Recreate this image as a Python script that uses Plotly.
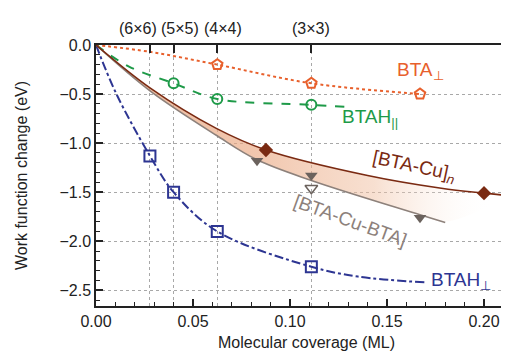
import plotly.graph_objects as go

# ---------------- data ----------------
# BTA perpendicular (orange pentagons)
bta_perp_x = [0.0625, 0.111, 0.167]
bta_perp_y = [-0.20, -0.39, -0.50]
bta_perp_curve_x = [0.0, 0.028, 0.0625, 0.111, 0.167]
bta_perp_curve_y = [0.0, -0.07, -0.20, -0.39, -0.50]

# BTAH parallel (green circles)
btah_par_x = [0.04, 0.0625, 0.111]
btah_par_y = [-0.39, -0.55, -0.61]
btah_par_curve_x = [0.0, 0.017, 0.04, 0.0625, 0.111, 0.128]
btah_par_curve_y = [0.0, -0.22, -0.39, -0.55, -0.61, -0.63]

# BTAH perpendicular (blue squares)
btah_perp_x = [0.0278, 0.04, 0.0625, 0.111]
btah_perp_y = [-1.13, -1.50, -1.90, -2.26]
btah_perp_curve_x = [0.0, 0.0103, 0.0278, 0.04, 0.0625, 0.111, 0.135, 0.170]
btah_perp_curve_y = [0.0, -0.49, -1.13, -1.50, -1.90, -2.26, -2.36, -2.42]

# [BTA-Cu]n (brown diamonds)
btacu_x = [0.0876, 0.200]
btacu_y = [-1.07, -1.51]
btacu_curve_x = [0.0, 0.028, 0.062, 0.0876, 0.14, 0.178, 0.200, 0.210]
btacu_curve_y = [0.0, -0.44, -0.85, -1.07, -1.33, -1.46, -1.51, -1.53]

# [BTA-Cu-BTA] (gray triangles)
btacubta_x = [0.083, 0.111, 0.167]
btacubta_y = [-1.18, -1.33, -1.76]
btacubta_open_x = [0.111]
btacubta_open_y = [-1.46]
btacubta_curve_x = [0.0, 0.028, 0.062, 0.083, 0.111, 0.167, 0.180]
btacubta_curve_y = [0.0, -0.47, -0.92, -1.17, -1.38, -1.73, -1.81]

# shaded band edges (lower edge runs past the gray line and fades out)
band_low_x = [0.0, 0.028, 0.062, 0.083, 0.111, 0.167, 0.180, 0.205]
band_low_y = [0.0, -0.47, -0.92, -1.17, -1.38, -1.73, -1.80, -1.62]
band_up_x = [0.0, 0.028, 0.062, 0.0876, 0.14, 0.178, 0.200, 0.205]
band_up_y = [0.0, -0.44, -0.85, -1.07, -1.33, -1.46, -1.51, -1.52]

# top axis: supercell sizes
top_tick_vals = [0.0278, 0.04, 0.0625, 0.111]
top_label_x = [0.0216, 0.0433, 0.0655, 0.111]
top_tick_text = ["(6×6)", "(5×5)", "(4×4)", "(3×3)"]

# ---------------- colours ----------------
ORANGE = "#e8602c"
GREEN = "#1e9a48"
BLUE = "#2d3592"
BROWN = "#7a2a12"
GRAY = "#6b625d"
GRAYLINE = "#8d817b"

FONT = "Liberation Sans, Arial, Helvetica, sans-serif"
FS = 16

fig = go.Figure()

# shaded band
fig.add_trace(go.Scatter(x=band_low_x, y=band_low_y, mode="lines",
                         line=dict(width=0, shape="spline"), hoverinfo="skip",
                         showlegend=False))
fig.add_trace(go.Scatter(x=band_up_x, y=band_up_y, mode="lines",
                         line=dict(width=0, shape="spline"), fill="tonexty",
                         fillgradient=dict(type="horizontal",
                                           colorscale=[[0, "rgba(230,160,120,0.7)"],
                                                       [0.4, "rgba(234,168,130,0.65)"],
                                                       [0.7, "rgba(240,192,162,0.5)"],
                                                       [1, "rgba(255,255,255,0)"]]),
                         hoverinfo="skip", showlegend=False))

# curves
fig.add_trace(go.Scatter(x=bta_perp_curve_x, y=bta_perp_curve_y, mode="lines",
                         line=dict(color=ORANGE, width=2, dash="dot", shape="spline"),
                         showlegend=False))
fig.add_trace(go.Scatter(x=btah_par_curve_x, y=btah_par_curve_y, mode="lines",
                         line=dict(color=GREEN, width=2, dash="dash", shape="spline"),
                         showlegend=False))
fig.add_trace(go.Scatter(x=btah_perp_curve_x, y=btah_perp_curve_y, mode="lines",
                         line=dict(color=BLUE, width=2, dash="dashdot", shape="spline"),
                         showlegend=False))
fig.add_trace(go.Scatter(x=btacubta_curve_x, y=btacubta_curve_y, mode="lines",
                         line=dict(color=GRAYLINE, width=1.6, shape="spline"),
                         showlegend=False))
fig.add_trace(go.Scatter(x=btacu_curve_x, y=btacu_curve_y, mode="lines",
                         line=dict(color=BROWN, width=1.6, shape="spline"),
                         showlegend=False))

# markers
fig.add_trace(go.Scatter(x=bta_perp_x, y=bta_perp_y, mode="markers",
                         marker=dict(symbol="pentagon-open", size=11, color=ORANGE,
                                     line=dict(width=2, color=ORANGE)),
                         showlegend=False))
fig.add_trace(go.Scatter(x=btah_par_x, y=btah_par_y, mode="markers",
                         marker=dict(symbol="circle-open", size=10, color=GREEN,
                                     line=dict(width=2, color=GREEN)),
                         showlegend=False))
fig.add_trace(go.Scatter(x=btah_perp_x, y=btah_perp_y, mode="markers",
                         marker=dict(symbol="square-open", size=11, color=BLUE,
                                     line=dict(width=2, color=BLUE)),
                         showlegend=False))
fig.add_trace(go.Scatter(x=btacubta_x, y=btacubta_y, mode="markers",
                         marker=dict(symbol="triangle-down", size=11, color=GRAY),
                         showlegend=False))
fig.add_trace(go.Scatter(x=btacubta_open_x, y=btacubta_open_y, mode="markers",
                         marker=dict(symbol="triangle-down-open", size=11, color=GRAY,
                                     line=dict(width=1.5, color=GRAY)),
                         showlegend=False))
fig.add_trace(go.Scatter(x=btacu_x, y=btacu_y, mode="markers",
                         marker=dict(symbol="diamond", size=11, color=BROWN),
                         showlegend=False))

# dummy trace for the top axis
fig.add_trace(go.Scatter(x=[0], y=[0], xaxis="x2", mode="markers",
                         marker=dict(opacity=0), hoverinfo="skip", showlegend=False))

x_range = [0, 0.217]
y_range = [-2.66, 0]

fig.update_layout(
    width=509, height=353,
    margin=dict(l=88, r=0, t=37, b=55),
    plot_bgcolor="white", paper_bgcolor="white",
    font=dict(family=FONT, size=FS, color="#222"),
    xaxis=dict(range=x_range, showline=True, linecolor="#222", linewidth=1.5,
               ticks="inside", ticklen=7, tickwidth=1.5, tickcolor="#222",
               dtick=0.05, tick0=0, tickformat=".2f", showgrid=False, zeroline=False,
               tickfont=dict(family=FONT, size=FS, color="#222"), automargin=False,
               minor=dict(ticks="inside", ticklen=4, tickwidth=1.2, dtick=0.01,
                          tickcolor="#222", showgrid=False),
               title=dict(text="Molecular coverage (ML)", standoff=8,
                          font=dict(family=FONT, size=FS, color="#222"))),
    xaxis2=dict(range=x_range, overlaying="x", side="top", matches="x",
                showline=True, linecolor="#222", linewidth=1.5,
                ticks="inside", ticklen=8, tickwidth=1.5, tickcolor="#222",
                tickvals=top_tick_vals, showticklabels=False,
                showgrid=True, gridcolor="#a8a8a8", griddash="dot", gridwidth=1,
                zeroline=False, automargin=False),
    yaxis=dict(range=y_range, showline=True, linecolor="#222", linewidth=1.5,
               ticks="inside", ticklen=7, tickwidth=1.5, tickcolor="#222",
               dtick=0.5, tick0=0, tickformat=".1f",
               tickfont=dict(family=FONT, size=FS, color="#222"), automargin=False,
               showgrid=True, gridcolor="#a8a8a8", griddash="dot", gridwidth=1,
               zeroline=False,
               minor=dict(ticks="inside", ticklen=4, tickwidth=1.2, dtick=0.1,
                          tickcolor="#222", showgrid=False),
               title=dict(text="Work function change (eV)", standoff=28,
                          font=dict(family=FONT, size=FS, color="#222"))),
)

for xv, txt in zip(top_label_x, top_tick_text):
    fig.add_annotation(x=xv, xref="x", y=1, yref="paper", yanchor="bottom",
                       yshift=6, text=txt, showarrow=False,
                       font=dict(family=FONT, size=FS, color="#222"))

ann_font = dict(family=FONT, size=19)
fig.add_annotation(x=0.167, y=-0.27, text="BTA<sub>⊥</sub>", showarrow=False,
                   font=dict(ann_font, color=ORANGE))
fig.add_annotation(x=0.141, y=-0.74, text="BTAH<sub>||</sub>", showarrow=False,
                   font=dict(ann_font, color=GREEN))
fig.add_annotation(x=0.164, y=-1.24, text="[BTA-Cu]<sub><i>n</i></sub>", showarrow=False,
                   textangle=12, font=dict(ann_font, color=BROWN))
fig.add_annotation(x=0.131, y=-1.79, text="[BTA-Cu-BTA]", showarrow=False,
                   textangle=20, font=dict(ann_font, color=GRAYLINE))
fig.add_annotation(x=0.188, y=-2.41, text="BTAH<sub>⊥</sub>", showarrow=False,
                   font=dict(ann_font, color=BLUE))

fig.write_html("out.html")
